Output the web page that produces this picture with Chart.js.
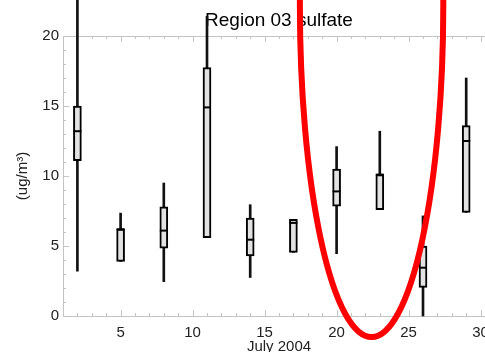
<!DOCTYPE html>
<html>
<head>
<meta charset="utf-8">
<script src="https://cdn.jsdelivr.net/npm/chart.js@4.4.1/dist/chart.umd.min.js"></script>
<style>
  html, body { margin: 0; padding: 0; background: #fff; overflow: hidden; }
  #wrap { width: 510px; height: 352px; }
</style>
</head>
<body>
<div id="wrap"><canvas id="myChart"></canvas></div>
<script>
// daily sulfate distribution, July 2004
const days = [2, 5, 8, 11, 14, 17, 20, 23, 26, 29];
const lows = [3.2, 3.9, 2.45, 5.6, 2.75, 4.55, 4.45, 7.6, 0.0, 7.4];
const q1 = [11.1, 3.9, 4.85, 5.6, 4.3, 4.55, 7.85, 7.6, 2.05, 7.4];
const medians = [13.2, 6.2, 6.1, 14.9, 5.45, 6.65, 8.9, 10.1, 3.45, 12.5];
const q3 = [15.0, 6.2, 7.8, 17.75, 7.0, 6.9, 10.5, 10.1, 5.0, 13.6];
const highs = [23.5, 7.35, 9.5, 21.4, 7.95, 6.9, 12.1, 13.2, 7.15, 17.0];

const xTicks = [5, 10, 15, 20, 25, 30];
const yTicks = [0, 5, 10, 15, 20];

// red ring drawn over the plot (data units)
const ring = { x: 22.43, y: 22.2, rx: 4.98, ry: 23.7 };

Chart.defaults.font.family = '"Liberation Sans", Arial, sans-serif';
Chart.defaults.color = '#222';

const axisColor = '#c4c4c4';

// IDL style box frame with inward ticks
const framePlugin = {
  id: 'frame',
  afterLayout(chart) {
    // centre the title over the plot box rather than the canvas
    const t = chart.titleBlock;
    if (t) {
      t.left = chart.chartArea.left;
      t.right = chart.chartArea.right;
    }
  },
  beforeDatasetsDraw(chart) {
    const { ctx, chartArea: a, scales: { x, y } } = chart;
    ctx.save();
    ctx.strokeStyle = axisColor;
    ctx.lineWidth = 1;
    ctx.beginPath();
    ctx.rect(a.left + 0.5, a.top + 0.5, a.right - a.left, a.bottom - a.top);
    ctx.stroke();
    ctx.beginPath();
    for (let d = 1; d <= 31; d++) {
      const px = Math.round(x.getPixelForValue(d)) + 0.5;
      const len = d % 5 === 0 ? 6 : 3;
      ctx.moveTo(px, a.bottom); ctx.lineTo(px, a.bottom - len);
      ctx.moveTo(px, a.top); ctx.lineTo(px, a.top + len);
    }
    for (let v = 0; v <= 20; v++) {
      const py = Math.round(y.getPixelForValue(v)) + 0.5;
      const len = v % 5 === 0 ? 6 : 3;
      ctx.moveTo(a.left, py); ctx.lineTo(a.left + len, py);
    }
    ctx.stroke();
    ctx.restore();
  }
};

const ringPlugin = {
  id: 'ring',
  afterDraw(chart) {
    const { ctx, scales: { x, y } } = chart;
    const cx = x.getPixelForValue(ring.x);
    const cy = y.getPixelForValue(ring.y);
    const rx = x.getPixelForValue(ring.x + ring.rx) - cx;
    const ry = y.getPixelForValue(ring.y - ring.ry) - cy;
    ctx.save();
    ctx.strokeStyle = '#ff0000';
    ctx.lineWidth = 6;
    ctx.beginPath();
    ctx.ellipse(cx, cy, rx, ry, 0, 0, Math.PI * 2);
    ctx.stroke();
    ctx.restore();
  }
};

new Chart(document.getElementById('myChart'), {
  type: 'bar',
  data: {
    datasets: [{
      type: 'scatter',
      label: 'median',
      data: days.map((d, i) => ({ x: d, y: medians[i] })),
      pointStyle: 'line',
      radius: 4,
      borderColor: '#000',
      borderWidth: 2,
      order: 1,
      clip: false
    }, {
      label: 'quartiles',
      data: days.map((d, i) => ({ x: d, y: [q1[i], q3[i]] })),
      backgroundColor: '#e2e2e2',
      borderColor: '#000',
      borderWidth: 2,
      borderSkipped: false,
      barThickness: 8,
      grouped: false,
      order: 2,
      clip: false
    }, {
      label: 'range',
      data: days.map((d, i) => ({ x: d, y: [lows[i], highs[i]] })),
      backgroundColor: '#111',
      borderWidth: 0,
      barThickness: 2,
      grouped: false,
      order: 3,
      clip: false
    }]
  },
  options: {
    responsive: true,
    maintainAspectRatio: false,
    animation: false,
    layout: { padding: { left: 0, right: 15, top: 0, bottom: 0 } },
    plugins: {
      legend: { display: false },
      tooltip: { enabled: false },
      title: {
        display: true,
        text: 'Region 03 sulfate',
        color: '#000',
        font: { size: 19, weight: 'normal' },
        padding: { top: 9.6, bottom: 3.6 }
      }
    },
    scales: {
      x: {
        type: 'linear',
        min: 1,
        max: 31,
        offset: false,
        grid: { display: false, drawTicks: false, offset: false },
        border: { display: false },
        afterBuildTicks: s => { s.ticks = xTicks.map(v => ({ value: v })); },
        afterFit: s => { s.height = 36; },
        ticks: { font: { size: 15 }, padding: 8, maxRotation: 0, autoSkip: false },
        title: {
          display: true,
          text: 'July 2004',
          font: { size: 15 },
          padding: { top: 0, bottom: -4 }
        }
      },
      y: {
        min: 0,
        max: 20,
        grid: { display: false, drawTicks: false },
        border: { display: false },
        afterBuildTicks: s => { s.ticks = yTicks.map(v => ({ value: v })); },
        afterFit: s => { s.width = 63; },
        ticks: { font: { size: 15 }, padding: 4 },
        title: {
          display: true,
          text: '(ug/m³)',
          font: { size: 15 },
          padding: { top: 14, bottom: 0 }
        }
      }
    }
  },
  plugins: [framePlugin, ringPlugin]
});
</script>
</body>
</html>
